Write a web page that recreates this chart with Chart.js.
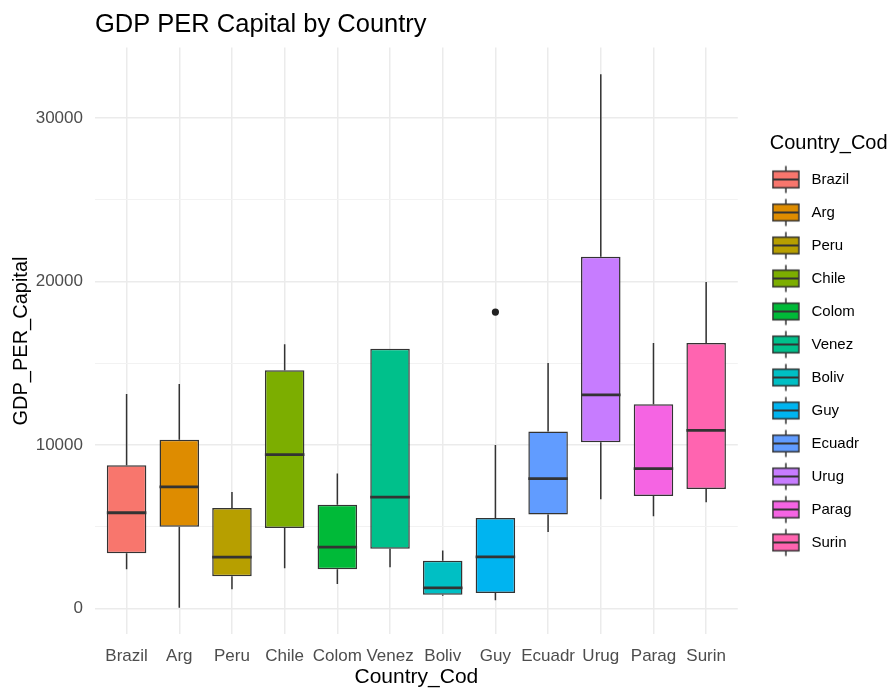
<!DOCTYPE html>
<html>
<head>
<meta charset="utf-8">
<title>GDP PER Capital by Country</title>
<script src="https://cdn.jsdelivr.net/npm/chart.js@4/dist/chart.umd.min.js"></script>
<style>
  html, body { margin: 0; padding: 0; background: #ffffff; }
  canvas { display: block; }
</style>
</head>
<body>
<canvas id="myChart" width="892" height="688"></canvas>
<script>
    // values, one per country
    var countries = ['Brazil', 'Arg', 'Peru', 'Chile', 'Colom', 'Venez', 'Boliv', 'Guy', 'Ecuadr', 'Urug', 'Parag', 'Surin'];
    var whiskerLow = [2400, 50, 1180, 2460, 1500, 2530, 780, 500, 4680, 6680, 5640, 6510];
    var q1 = [3380, 5010, 1970, 4930, 2400, 3660, 850, 955, 5750, 10180, 6880, 7320];
    var median = [5860, 7440, 3150, 9420, 3760, 6820, 1260, 3160, 7950, 13070, 8560, 10900];
    var q3 = [8760, 10330, 6150, 14580, 6350, 15890, 2925, 5545, 10840, 21520, 12500, 16240];
    var whiskerHigh = [13130, 13740, 7130, 16170, 8270, 15890, 3556, 10006, 15030, 32690, 16255, 19975];
    var outlierCountry = ['Guy'];
    var outlierValue = [18140];
    var fills = ['#F8766D', '#DE8C00', '#B79F00', '#7CAE00', '#00BA38', '#00C08B', '#00BFC4', '#00B4F0', '#619CFF', '#C77CFF', '#F564E3', '#FF64B0'];
    var yTickValues = [0, 10000, 20000, 30000];
    var yMinorValues = [5000, 15000, 25000];

    var ink = '#333333';

    // ggplot style expansion: 5% of the data range on each side
    var lo = Math.min.apply(null, whiskerLow.concat(outlierValue));
    var hi = Math.max.apply(null, whiskerHigh.concat(outlierValue));
    var pad = (hi - lo) * 0.05;

    var boxData = [];
    for (let i = 0; i < countries.length; i++) {
      boxData.push({x: i, y: [q1[i], q3[i]]});
    }
    var outlierData = [];
    for (let i = 0; i < outlierCountry.length; i++) {
      outlierData.push({x: countries.indexOf(outlierCountry[i]), y: outlierValue[i]});
    }

    // little boxplot key for the legend, drawn left of the canvas centre
    function keyGlyph(color) {
      var c = document.createElement('canvas');
      c.width = 48;
      c.height = 34;
      var g = c.getContext('2d');
      var cx = 14;
      g.strokeStyle = ink;
      g.lineWidth = 1.5;
      g.beginPath();
      g.moveTo(cx, 3.5); g.lineTo(cx, 8.7);
      g.moveTo(cx, 25.3); g.lineTo(cx, 30.5);
      g.stroke();
      g.fillStyle = color;
      g.fillRect(cx - 13, 8.7, 26, 16.6);
      g.strokeRect(cx - 13, 8.7, 26, 16.6);
      g.lineWidth = 2;
      g.beginPath();
      g.moveTo(cx - 13, 17); g.lineTo(cx + 13, 17);
      g.stroke();
      return c;
    }

    var boxExtras = {
      id: 'boxExtras',
      afterLayout: function (chart) {
        // title sits over the panel like in ggplot
        chart.titleBlock.left = chart.chartArea.left;
        // legend clips to its box, let the long title run to the edge
        chart.legend.right = chart.width;
        chart.legend.width = chart.legend.right - chart.legend.left;
      },
      afterDatasetsDraw: function (chart) {
        var ctx = chart.ctx;
        var xs = chart.scales.x;
        var ys = chart.scales.y;
        var bars = chart.getDatasetMeta(0).data;
        ctx.save();
        ctx.strokeStyle = ink;
        for (let i = 0; i < countries.length; i++) {
          var px = xs.getPixelForValue(i);
          var half = bars[i].width / 2;
          ctx.lineWidth = 1.5;
          ctx.beginPath();
          ctx.moveTo(px, ys.getPixelForValue(q3[i]));
          ctx.lineTo(px, ys.getPixelForValue(whiskerHigh[i]));
          ctx.moveTo(px, ys.getPixelForValue(q1[i]));
          ctx.lineTo(px, ys.getPixelForValue(whiskerLow[i]));
          ctx.stroke();
          ctx.lineWidth = 2.8;
          ctx.beginPath();
          ctx.moveTo(px - half, ys.getPixelForValue(median[i]));
          ctx.lineTo(px + half, ys.getPixelForValue(median[i]));
          ctx.stroke();
        }
        ctx.restore();
      }
    };

    var myChart = new Chart('myChart', {
      type: 'bar',
      data: {
        datasets: [{
          data: boxData,
          backgroundColor: fills,
          borderColor: ink,
          borderWidth: 1.5,
          borderSkipped: false,
          barPercentage: 0.75,
          categoryPercentage: 1,
          order: 1
        }, {
          type: 'scatter',
          data: outlierData,
          pointRadius: 3.6,
          pointBackgroundColor: '#222222',
          pointBorderWidth: 0,
          order: 0
        }]
      },
      options: {
        responsive: false,
        devicePixelRatio: 1,
        animation: false,
        layout: {padding: {left: 0, right: 23, top: 0, bottom: 0}},
        plugins: {
          tooltip: {enabled: false},
          title: {
            display: true,
            text: 'GDP PER Capital by Country',
            align: 'start',
            color: '#000000',
            font: {family: 'Liberation Sans, Arial', size: 25.5, weight: 'normal'},
            padding: {top: 9.2, bottom: 7.8}
          },
          legend: {
            display: true,
            position: 'right',
            fullSize: false,
            onClick: null,
            title: {
              display: true,
              text: 'Country_Cod',
              position: 'start',
              color: '#000000',
              font: {family: 'Liberation Sans, Arial', size: 20, lineHeight: 1},
              padding: {top: 19.5, bottom: 0.5}
            },
            labels: {
              usePointStyle: true,
              pointStyleWidth: 16.2,
              padding: 18,
              color: '#000000',
              font: {family: 'Liberation Sans, Arial', size: 15},
              generateLabels: function () {
                var items = [];
                for (let i = 0; i < countries.length; i++) {
                  items.push({
                    text: countries[i],
                    pointStyle: keyGlyph(fills[i]),
                    fillStyle: fills[i],
                    strokeStyle: ink,
                    lineWidth: 0,
                    hidden: false,
                    datasetIndex: 0,
                    index: i
                  });
                }
                return items;
              }
            }
          }
        },
        scales: {
          x: {
            type: 'linear',
            offset: false,
            min: -0.6,
            max: countries.length - 0.4,
            afterBuildTicks: function (axis) {
              axis.ticks = countries.map(function (c, i) { return {value: i}; });
            },
            ticks: {
              autoSkip: false,
              maxRotation: 0,
              padding: 13.1,
              color: '#4D4D4D',
              font: {family: 'Liberation Sans, Arial', size: 17, lineHeight: 1},
              callback: function (value) { return countries[value]; }
            },
            grid: {color: '#EBEBEB', lineWidth: 1.5, drawTicks: false, offset: false},
            border: {display: false},
            title: {
              display: true,
              text: 'Country_Cod',
              color: '#000000',
              font: {family: 'Liberation Sans, Arial', size: 21, lineHeight: 1},
              padding: {top: -10.6, bottom: 0}
            }
          },
          y: {
            type: 'linear',
            min: lo - pad,
            max: hi + pad,
            afterBuildTicks: function (axis) {
              var vals = yTickValues.concat(yMinorValues).sort(function (a, b) { return a - b; });
              axis.ticks = vals.map(function (v) { return {value: v}; });
            },
            ticks: {
              padding: 12,
              color: '#4D4D4D',
              font: {family: 'Liberation Sans, Arial', size: 17},
              callback: function (value) {
                return yTickValues.indexOf(value) >= 0 ? String(value) : '';
              }
            },
            grid: {
              drawTicks: false,
              color: function (c) { return yTickValues.indexOf(c.tick.value) >= 0 ? '#EBEBEB' : '#F2F2F2'; },
              lineWidth: function (c) { return yTickValues.indexOf(c.tick.value) >= 0 ? 1.5 : 1.1; }
            },
            border: {display: false},
            title: {
              display: true,
              text: 'GDP_PER_Capital',
              color: '#000000',
              font: {family: 'Liberation Sans, Arial', size: 20, lineHeight: 1},
              padding: {top: 11, bottom: -7.3}
            }
          },
          // empty axis, only keeps the gap between panel and legend
          gap: {
            type: 'linear',
            position: 'right',
            display: true,
            ticks: {display: false},
            grid: {display: false},
            border: {display: false},
            afterFit: function (axis) { axis.width = 32; }
          }
        }
      },
      plugins: [boxExtras]
    });
</script>
</body>
</html>
